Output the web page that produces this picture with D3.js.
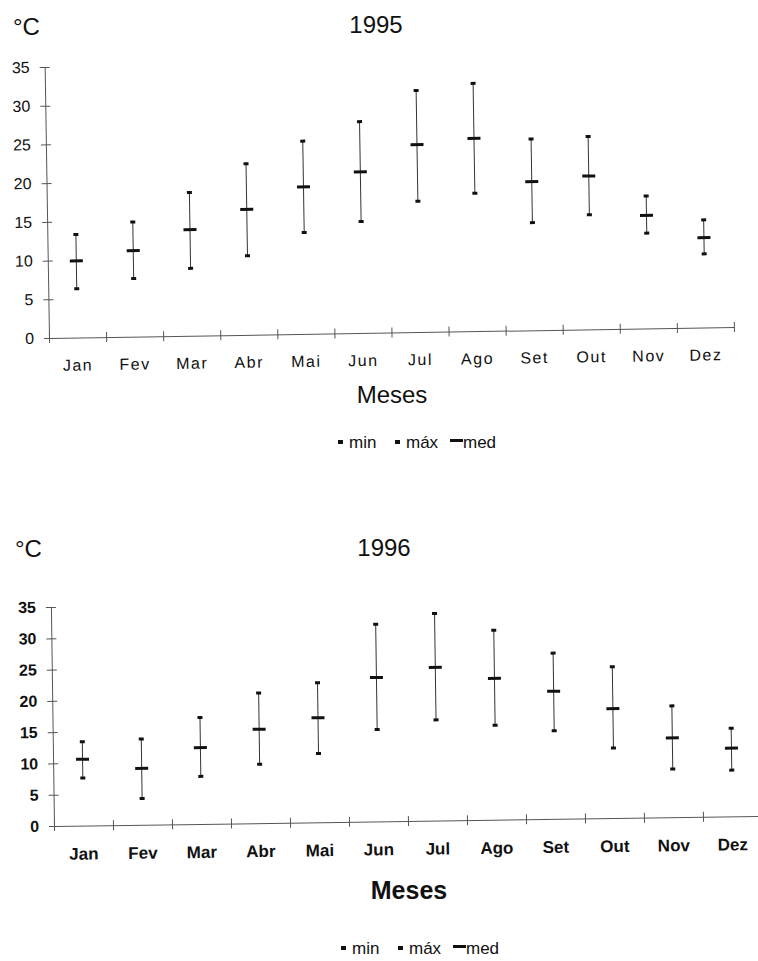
<!DOCTYPE html>
<html>
<head>
<meta charset="utf-8">
<script src="https://cdn.jsdelivr.net/npm/d3@7"></script>
<style>
  body { margin: 0; background: #fff; }
  svg { display: block; font-family: Arial, "Liberation Sans", sans-serif; }
</style>
</head>
<body>
<div id="chart"></div>
<script>
// month labels and y ticks
const months = ["Jan", "Fev", "Mar", "Abr", "Mai", "Jun", "Jul", "Ago", "Set", "Out", "Nov", "Dez"];
const yTicks = [0, 5, 10, 15, 20, 25, 30, 35];

// 1995 temperatures (ºC)
const min1995 = [6.3, 7.5, 8.7, 10.2, 13.1, 14.4, 16.9, 17.8, 13.9, 14.8, 12.3, 9.5];
const med1995 = [9.9, 11.1, 13.7, 16.2, 19.0, 20.8, 24.2, 24.9, 19.2, 19.8, 14.6, 11.6];
const max1995 = [13.3, 14.8, 18.5, 22.1, 24.9, 27.3, 31.2, 32.0, 24.7, 24.9, 17.1, 13.9];

// 1996 temperatures (ºC)
const min1996 = [7.6, 4.2, 7.6, 9.4, 11.0, 14.7, 16.1, 15.1, 14.1, 11.2, 7.7, 7.4];
const med1996 = [10.6, 9.0, 12.2, 15.0, 16.7, 23.0, 24.5, 22.6, 20.4, 17.5, 12.7, 10.9];
const max1996 = [13.4, 13.7, 17.0, 20.8, 22.3, 31.5, 33.1, 30.3, 26.5, 24.2, 17.8, 14.1];

const legendItems = ["min", "máx", "med"];

const width = 758, height = 961;
const svg = d3.select("#chart").append("svg")
    .attr("width", width)
    .attr("height", height);

const ink = "#111";
const axisColor = "#555";

// the scanned page is slightly rotated, so every plot is turned a little
const panels = [
    {
        title: "1995", min: min1995, med: med1995, max: max1995,
        ox: 49, oy: 338, w: 685, h: 271, rot: -0.92,
        titleX: 376, titleY: 33, unitX: 13, unitY: 35,
        tickWeight: "normal", tickSize: 16, labelSize: 16, labelSpacing: 1.5, labelY: 33,
        mesesX: 392, mesesY: 403, mesesSize: 24, mesesWeight: "normal",
        legendX: 338, legendY: 448
    },
    {
        title: "1996", min: min1996, med: med1996, max: max1996,
        ox: 54, oy: 826, w: 708, h: 219, rot: -0.81,
        titleX: 384, titleY: 556, unitX: 15, unitY: 557,
        tickWeight: "bold", tickSize: 16, labelSize: 17, labelSpacing: 0, labelY: 34,
        mesesX: 409, mesesY: 899, mesesSize: 25, mesesWeight: "bold",
        legendX: 341, legendY: 954
    }
];

function drawPanel(c) {
    const x = d3.scaleBand().domain(months).range([0, c.w]);
    const xEdges = d3.scaleLinear().domain([0, months.length]).range([0, c.w]);
    const y = d3.scaleLinear().domain([0, 35]).range([0, -c.h]);

    // titles
    svg.append("text")
        .attr("x", c.unitX).attr("y", c.unitY)
        .attr("font-size", 24).attr("fill", ink)
        .text("°C");
    svg.append("text")
        .attr("x", c.titleX).attr("y", c.titleY)
        .attr("text-anchor", "middle")
        .attr("font-size", 24).attr("fill", ink)
        .text(c.title);

    const plot = svg.append("g")
        .attr("transform", `translate(${c.ox},${c.oy}) rotate(${c.rot})`);

    // y axis, ticks crossing the line
    const yAxis = plot.append("g")
        .call(d3.axisLeft(y).tickValues(yTicks).tickSize(5).tickSizeOuter(0).tickPadding(10));
    yAxis.select(".domain").attr("stroke", axisColor);
    yAxis.selectAll(".tick line").attr("x1", 5).attr("stroke", axisColor);
    yAxis.selectAll(".tick text")
        .attr("fill", ink)
        .attr("font-size", c.tickSize)
        .attr("font-weight", c.tickWeight)
        .attr("font-family", "Arial, 'Liberation Sans', sans-serif");

    // x axis with ticks at month boundaries
    const xAxis = plot.append("g")
        .call(d3.axisBottom(xEdges).tickValues(d3.range(months.length + 1)).tickFormat("").tickSize(5).tickSizeOuter(0));
    xAxis.select(".domain").attr("stroke", axisColor);
    xAxis.selectAll(".tick line").attr("y1", -5).attr("stroke", axisColor);

    // month labels
    const xLabels = plot.append("g")
        .call(d3.axisBottom(x).tickSize(0));
    xLabels.select(".domain").remove();
    xLabels.selectAll(".tick text")
        .attr("y", c.labelY)
        .attr("dy", 0)
        .attr("fill", ink)
        .attr("font-size", c.labelSize)
        .attr("font-weight", c.tickWeight)
        .attr("letter-spacing", c.labelSpacing)
        .attr("font-family", "Arial, 'Liberation Sans', sans-serif");

    // range bars
    const rows = months.map((m, i) => ({ m, min: c.min[i], med: c.med[i], max: c.max[i] }));
    const cx = d => x(d.m) + x.bandwidth() / 2;

    const bars = plot.append("g").selectAll("g")
        .data(rows)
        .join("g");

    bars.append("line")
        .attr("x1", cx).attr("x2", cx)
        .attr("y1", d => y(d.min)).attr("y2", d => y(d.max))
        .attr("stroke", "#333").attr("stroke-width", 1);

    bars.append("rect")
        .attr("x", d => cx(d) - 2.5).attr("y", d => y(d.min) - 1.5)
        .attr("width", 5).attr("height", 3)
        .attr("fill", ink);
    bars.append("rect")
        .attr("x", d => cx(d) - 2.5).attr("y", d => y(d.max) - 1.5)
        .attr("width", 5).attr("height", 3)
        .attr("fill", ink);
    bars.append("rect")
        .attr("x", d => cx(d) - 6.5).attr("y", d => y(d.med) - 1.5)
        .attr("width", 13).attr("height", 3)
        .attr("fill", ink);

    // axis title
    svg.append("text")
        .attr("x", c.mesesX).attr("y", c.mesesY)
        .attr("text-anchor", "middle")
        .attr("font-size", c.mesesSize)
        .attr("font-weight", c.mesesWeight)
        .attr("fill", ink)
        .text("Meses");

    // legend
    const lg = svg.append("g").attr("transform", `translate(${c.legendX},${c.legendY})`);
    const offsets = [0, 57, 112];
    legendItems.forEach((name, i) => {
        const item = lg.append("g").attr("transform", `translate(${offsets[i]},0)`);
        if (name === "med") {
            item.append("rect").attr("x", 0).attr("y", -9).attr("width", 13).attr("height", 3).attr("fill", ink);
            item.append("text").attr("x", 13).attr("y", 0)
                .attr("font-size", 17).attr("fill", ink).text(name);
        } else {
            item.append("rect").attr("x", 0).attr("y", -8).attr("width", 5).attr("height", 4).attr("fill", ink);
            item.append("text").attr("x", 11).attr("y", 0)
                .attr("font-size", 17).attr("fill", ink).text(name);
        }
    });
}

panels.forEach(drawPanel);
</script>
</body>
</html>
